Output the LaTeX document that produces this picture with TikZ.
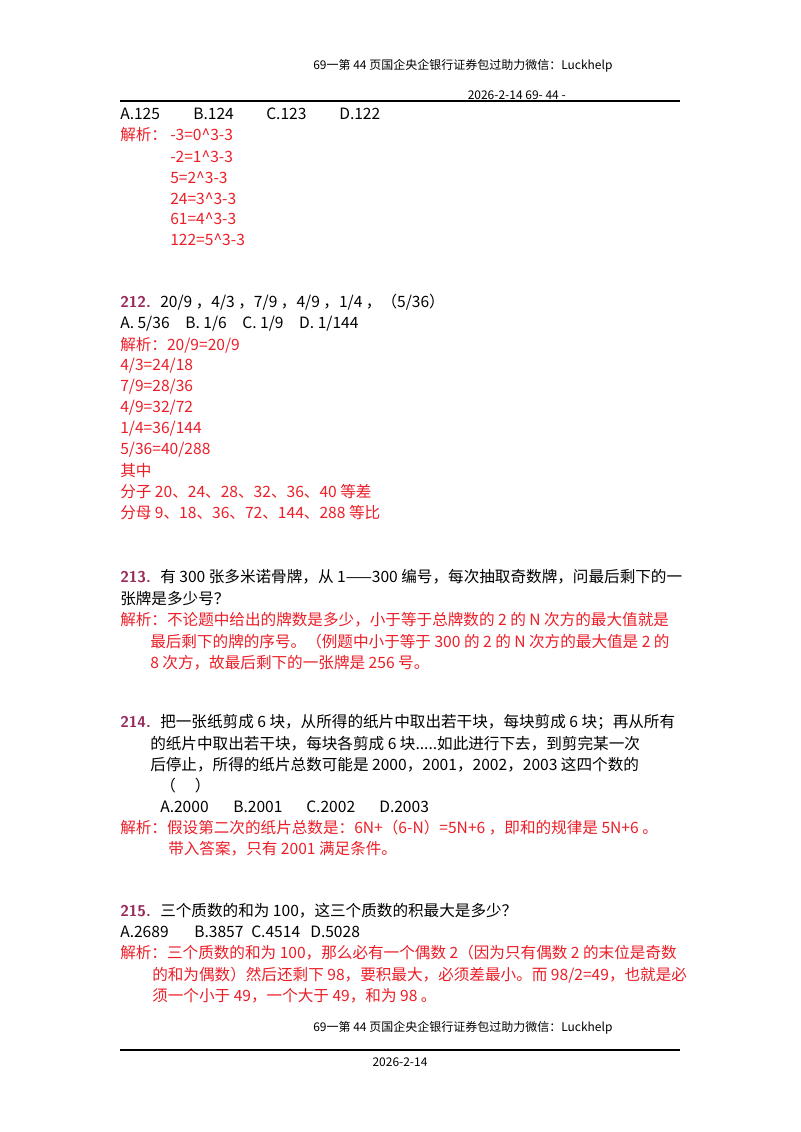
\documentclass[tikz,border=0pt]{standalone}
\usepackage{fontspec}
\setmainfont{Liberation Serif}
\newfontfamily\cjk{Noto Sans CJK SC}
\definecolor{ans}{RGB}{235,30,40}
\definecolor{qn}{RGB}{150,40,90}
\begin{document}
\begin{tikzpicture}[x=0.75pt,y=-0.75pt,
  t/.style={anchor=west,inner sep=0pt,font=\cjk\fontsize{11.7pt}{13pt}\selectfont},
  r/.style={t,text=ans},
  q/.style={anchor=west,inner sep=0pt,font=\sffamily\bfseries\fontsize{11.7pt}{13pt}\selectfont,text=qn},
  hd/.style={inner sep=0pt,font=\cjk\fontsize{9pt}{10pt}\selectfont}]
\useasboundingbox (0,0) rectangle (800,1132);
\node[hd,anchor=west] (h1) at (313,66) {69一第\ 44\ 页国企央企银行证券包过助力微信：Luckhelp};
\node[hd,anchor=east] (h2) at (566,95) {2026-2-14 69- 44 -};
\draw[line width=1pt] (120,101) -- (680,101);
% 211 tail
\node[t] (a1) at (120,114) {A.125};
\node[t] (a2) at (193,114) {B.124};
\node[t] (a3) at (266,114) {C.123};
\node[t] (a4) at (339,114) {D.122};
\node[r] (j1) at (120,135) {解析：};
\node[r] (j1a) at (170,135) {-3=0\^{}3-3};
\node[r] (j1b) at (170,157) {-2=1\^{}3-3};
\node[r] (j1c) at (170,178) {5=2\^{}3-3};
\node[r] (j1d) at (170,199) {24=3\^{}3-3};
\node[r] (j1e) at (170,219) {61=4\^{}3-3};
\node[r] (j1f) at (170,240) {122=5\^{}3-3};
% 212
\node[q] (q212) at (120,302) {212.};
\node[t] (q212t) at (160,302) {20/9 ，4/3 ，7/9 ，4/9 ，1/4 ，（5/36）};
\node[t] (o212) at (120,324) {A. 5/36\quad B. 1/6\quad C. 1/9\quad D. 1/144};
\node[r] (j2a) at (120,345) {解析：20/9=20/9};
\node[r] (j2b) at (120,366) {4/3=24/18};
\node[r] (j2c) at (120,387) {7/9=28/36};
\node[r] (j2d) at (120,408) {4/9=32/72};
\node[r] (j2e) at (120,429) {1/4=36/144};
\node[r] (j2f) at (120,450) {5/36=40/288};
\node[r] (j2g) at (120,471) {其中};
\node[r] (j2h) at (120,492) {分子 20、24、28、32、36、40 等差};
\node[r] (j2i) at (120,513) {分母 9、18、36、72、144、288 等比};
% 213
\node[q] (q213) at (120,577) {213.};
\node[t] (q213a) at (160,577) {有 300 张多米诺骨牌，从 1——300 编号，每次抽取奇数牌，问最后剩下的一};
\node[t] (q213b) at (120,599) {张牌是多少号？};
\node[r] (j3a) at (120,620) {解析：不论题中给出的牌数是多少，小于等于总牌数的 2 的 N 次方的最大值就是};
\node[r] (j3b) at (150,642) {最后剩下的牌的序号。（例题中小于等于 300 的 2 的 N 次方的最大值是 2 的};
\node[r] (j3c) at (150,663) {8 次方，故最后剩下的一张牌是 256 号。};
% 214
\node[q] (q214) at (120,722) {214.};
\node[t] (q214a) at (160,722) {把一张纸剪成 6 块，从所得的纸片中取出若干块，每块剪成 6 块；再从所有};
\node[t] (q214b) at (150,744) {的纸片中取出若干块，每块各剪成 6 块.....如此进行下去，到剪完某一次};
\node[t] (q214c) at (150,765) {后停止，所得的纸片总数可能是 2000，2001，2002，2003 这四个数的};
\node[t] (q214d) at (160,786) {（\quad\ ）};
\node[t] (o214a) at (160,807) {A.2000};
\node[t] (o214b) at (233,807) {B.2001};
\node[t] (o214c) at (306,807) {C.2002};
\node[t] (o214d) at (379,807) {D.2003};
\node[r] (j4a) at (120,828) {解析：假设第二次的纸片总数是：6N+（6-N）=5N+6 ，即和的规律是 5N+6 。};
\node[r] (j4b) at (168,849) {带入答案，只有 2001 满足条件。};
% 215
\node[q] (q215) at (120,911) {215.};
\node[t] (q215a) at (160,911) {三个质数的和为 100，这三个质数的积最大是多少？};
\node[t] (o215a) at (120,932) {A.2689};
\node[t] (o215b) at (194,932) {B.3857};
\node[t] (o215c) at (251,932) {C.4514};
\node[t] (o215d) at (310,932) {D.5028};
\node[r] (j5a) at (120,953) {解析：三个质数的和为 100，那么必有一个偶数 2（因为只有偶数 2 的末位是奇数};
\node[r] (j5b) at (152,975) {的和为偶数）然后还剩下 98，要积最大，必须差最小。而 98/2=49，也就是必};
\node[r] (j5c) at (152,996) {须一个小于 49，一个大于 49，和为 98 。};
% footer
\node[hd,anchor=west] (f1) at (313,1028) {69一第\ 44\ 页国企央企银行证券包过助力微信：Luckhelp};
\draw[line width=0.8pt] (120,1050) -- (680,1050);
\node[hd] (f2) at (400,1062) {2026-2-14};
\end{tikzpicture}
\end{document}
